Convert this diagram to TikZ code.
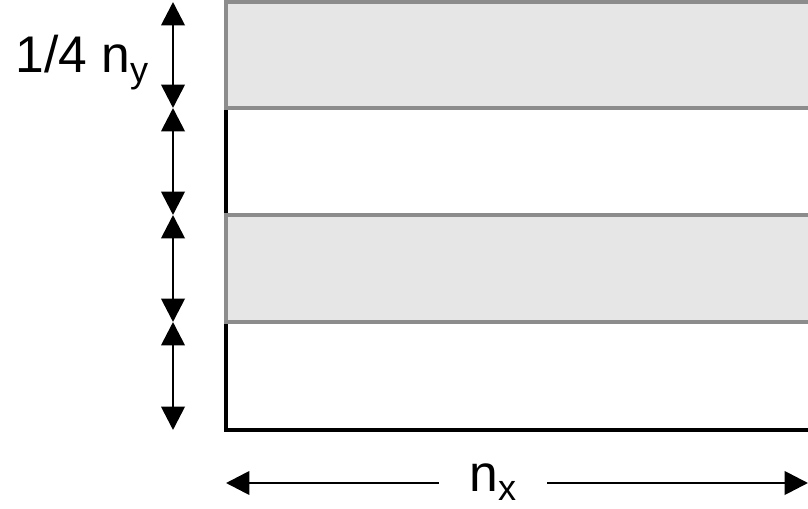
\documentclass[tikz,border=0pt]{standalone}
\usepackage{fontspec}
\setmainfont{Liberation Sans}
\usetikzlibrary{arrows.meta}
\definecolor{bandfill}{HTML}{E6E6E6}
\definecolor{bandedge}{HTML}{8C8C8C}

\begin{document}
\begin{tikzpicture}[x=0.03cm,y=-0.03cm,
    dim/.style={line width=2.4pt,{Triangle[length=20pt,width=20pt]}-{Triangle[length=20pt,width=20pt]}},
    half/.style={line width=2.4pt,-{Triangle[length=20pt,width=20pt]}},
    band/.style={draw=bandedge,fill=bandfill,line width=2.8pt},
    lbl/.style={font=\fontsize{44}{50}\selectfont,inner sep=0pt}]
        \useasboundingbox (0,0) rectangle (808,509);
        \clip (0,0) rectangle (808,509);

        % white bands, outlined in black
        \draw [line width=2.8pt] (226,108) -- (226,430) -- (840,430);
        % gray bands
        \draw [band] (840,2) -- (226,2) -- (226,108) -- (840,108);
        \draw [band] (840,215) -- (226,215) -- (226,322) -- (840,322);

        \foreach \i/\y in {0/2,1/108,2/215,3/322,4/430}
            \coordinate (m\i) at (173,\y);
        \foreach \a/\b in {0/1,1/2,2/3,3/4}
            \draw [dim] (m\a) -- (m\b);
        \node[lbl,anchor=base east] (ny) at (149,73) {1/4 n\textsubscript{y}};

        \coordinate (w0) at (226,483);
        \coordinate (w1) at (808,483);
        \node[lbl,inner xsep=26pt] (nx) at (493,482) {n\textsubscript{x}};
        \draw [half] (nx.west |- w0) -- (w0);
        \draw [half] (nx.east |- w1) -- (w1);
    \end{tikzpicture}
\end{document}
